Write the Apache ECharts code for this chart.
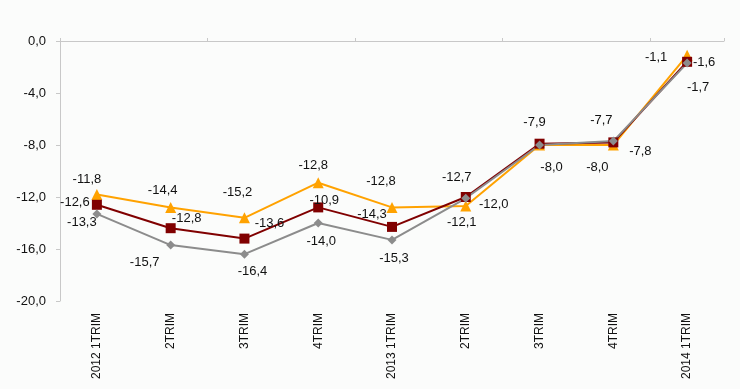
<!DOCTYPE html>
<html>
<head>
<meta charset="utf-8">
<script src="https://cdn.jsdelivr.net/npm/echarts@6/dist/echarts.min.js"></script>
<style>
html,body{margin:0;padding:0;background:#fbfcfb;}
#chart{width:740px;height:389px;}
</style>
</head>
<body>
<div id="chart"></div>
<script>
var categories = ['2012 1TRIM','2TRIM','3TRIM','4TRIM','2013 1TRIM','2TRIM','3TRIM','4TRIM','2014 1TRIM'];
var orangeValues = [-11.8, -12.8, -13.6, -10.9, -12.8, -12.7, -8.0, -8.0, -1.1];
var redValues    = [-12.6, -14.4, -15.2, -12.8, -14.3, -12.0, -7.9, -7.8, -1.6];
var greyValues   = [-13.3, -15.7, -16.4, -14.0, -15.3, -12.1, -8.0, -7.7, -1.7];

// label offsets (styling only) relative to each marker; null = label hidden behind another
var orangeLabelOffsets = [[-10,-15],[16,11],[25,6],[6,18],[-11,-26],[-9,-29],null,[-16,22],[-31,2]];
var redLabelOffsets    = [[-22,-2],[-8,-38],[-7,-46],[-5,-42],[-20,-12],[28,7],[-5,-21],[27,9],[17,1]];
var greyLabelOffsets   = [[-15,9],[-26,17],[8,17],[3,18],[2,19],[-4,24],[12,22],[-12,-21],[11,24]];

function fmt(v){ return v.toFixed(1).replace('.', ','); }

function buildData(values, offsets){
  return values.map(function(v, i){
    if (!offsets[i]) return { value: v, label: { show: false } };
    return { value: v, label: { offset: offsets[i] } };
  });
}

function makeSeries(name, values, offsets, color, symbol, size){
  return {
    name: name,
    type: 'line',
    xAxisIndex: 0,
    data: buildData(values, offsets),
    symbol: symbol,
    symbolSize: size,
    lineStyle: { color: color, width: 2 },
    itemStyle: { color: color },
    label: {
      show: true,
      position: 'inside',
      color: '#111',
      fontSize: 13,
      fontFamily: 'Liberation Sans, Arial, sans-serif',
      formatter: function(p){ return fmt(p.value); }
    },
    emphasis: { disabled: true },
    animation: false
  };
}

var chart = echarts.init(document.getElementById('chart'), null, {renderer: 'canvas'});
chart.setOption({
  backgroundColor: '#fbfcfb',
  animation: false,
  grid: { left: 60, right: 16, top: 41, bottom: 88 },
  xAxis: [
    {
      type: 'category',
      data: categories,
      position: 'bottom',
      boundaryGap: true,
      axisLine: { show: false },
      axisTick: { show: false },
      axisLabel: {
        rotate: 90,
        margin: 12,
        color: '#111',
        fontSize: 12,
        fontFamily: 'Liberation Sans, Arial, sans-serif',
        interval: 0
      }
    },
    {
      type: 'category',
      data: categories,
      position: 'top',
      boundaryGap: true,
      axisLine: { show: true, lineStyle: { color: '#c8c8c8', width: 1 } },
      axisTick: { show: true, length: 3, lineStyle: { color: '#c8c8c8' } },
      axisLabel: { show: false }
    }
  ],
  yAxis: {
    type: 'value',
    min: -20,
    max: 0,
    interval: 4,
    splitLine: { show: false },
    axisLine: { show: true, lineStyle: { color: '#c8c8c8', width: 1 } },
    axisTick: { show: true, length: 4, lineStyle: { color: '#c8c8c8' } },
    axisLabel: {
      margin: 14,
      color: '#111',
      fontSize: 13,
      fontFamily: 'Liberation Sans, Arial, sans-serif',
      formatter: function(v){ return fmt(v); }
    }
  },
  series: [
    makeSeries('orange', orangeValues, orangeLabelOffsets, '#FFA200', 'triangle', 11),
    makeSeries('red', redValues, redLabelOffsets, '#800000', 'rect', 10),
    makeSeries('grey', greyValues, greyLabelOffsets, '#8C8C8C', 'diamond', 9)
  ]
});
</script>
</body>
</html>
